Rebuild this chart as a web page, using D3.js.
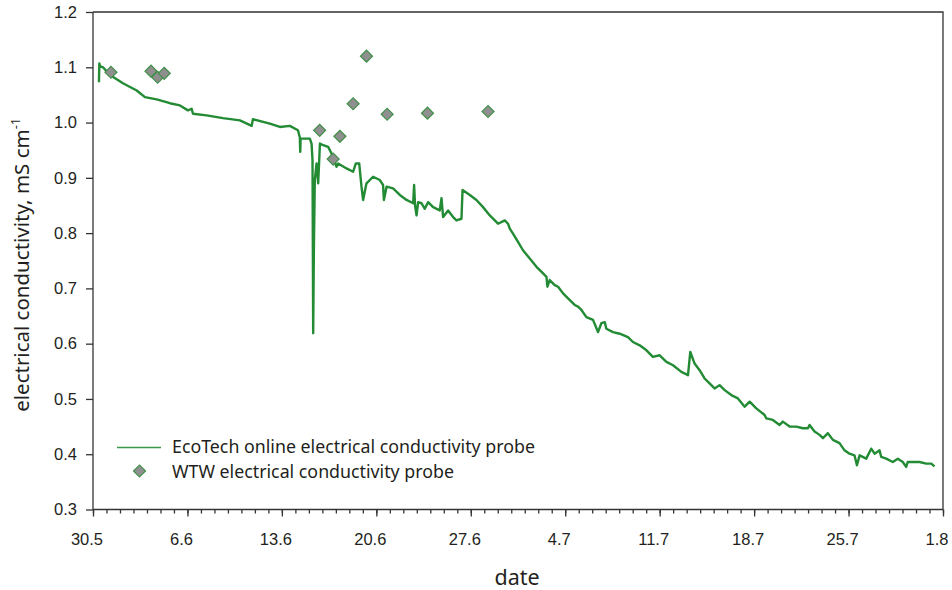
<!DOCTYPE html>
<html>
<head>
<meta charset="utf-8">
<script src="https://cdn.jsdelivr.net/npm/d3@7"></script>
<style>
  html, body { margin: 0; padding: 0; background: #fff; }
  svg { display: block; font-family: "Noto Sans", "Open Sans", sans-serif; }
  .axis text { font-size: 16.5px; fill: #231f20; }
  .axis path, .axis line { stroke: #333; stroke-width: 1.3; }
</style>
</head>
<body>
<svg id="chart" width="952" height="590"></svg>
<script>
// Measurement period start (first day on the time axis)
const startDate = Date.UTC(2014, 4, 30);
const endDay = 63; // 1 August

// EcoTech online probe: elapsed days since 30 May, conductivity in mS/cm
const ecoDays = [0.44,0.47,0.52,0.74,1.26,2.22,3.24,3.85,4.72,5.70,6.44,7.04,7.31,7.41,8.42,9.63,10.89,11.76,11.85,13.11,
  13.85,14.59,15.19,15.33,15.36,15.39,16.07,16.20,16.27,16.32,16.37,16.44,16.57,16.69,16.82,17.06,17.43,17.68,18.05,18.17,
  18.79,19.28,19.48,19.73,19.90,20.02,20.27,20.76,21.26,21.50,21.56,21.76,22.24,22.74,23.24,23.73,23.80,23.87,23.98,24.10,
  24.35,24.59,24.84,25.21,25.70,25.83,25.95,26.32,26.69,26.94,27.31,27.39,27.93,28.42,28.91,29.41,30.02,30.52,30.76,30.89,
  31.13,31.50,31.87,32.37,32.87,33.36,33.61,33.68,33.85,34.22,34.47,34.84,35.21,35.70,35.95,36.20,36.57,37.06,37.43,37.68,
  37.93,38.05,38.54,39.04,39.65,40.02,40.52,41.02,41.50,42.00,42.50,42.99,43.61,44.10,44.27,44.59,44.96,45.33,45.70,46.07,
  46.44,46.82,47.31,47.80,48.30,48.67,49.16,49.78,49.90,50.39,50.89,51.13,51.63,52.13,52.62,52.99,53.11,53.48,53.85,54.10,
  54.47,54.84,55.33,55.70,56.07,56.44,56.62,56.82,57.31,57.68,57.93,58.30,58.42,58.79,59.28,59.65,60.02,60.27,60.39,60.76,
  61.26,61.76,62.13,62.37];
const ecoEC = [1.073,1.107,1.102,1.100,1.086,1.071,1.058,1.046,1.042,1.035,1.031,1.022,1.025,1.016,1.013,1.008,1.004,0.994,1.006,0.998,
  0.992,0.994,0.986,0.973,0.947,0.971,0.971,0.962,0.932,0.619,0.769,0.896,0.926,0.890,0.962,0.959,0.956,0.944,0.920,0.926,
  0.917,0.911,0.926,0.926,0.884,0.860,0.890,0.902,0.896,0.887,0.860,0.884,0.881,0.869,0.860,0.854,0.887,0.850,0.832,0.856,
  0.854,0.844,0.856,0.847,0.841,0.863,0.829,0.841,0.829,0.823,0.826,0.878,0.869,0.860,0.847,0.832,0.817,0.823,0.817,0.808,
  0.799,0.784,0.769,0.754,0.739,0.727,0.721,0.703,0.715,0.706,0.703,0.691,0.682,0.670,0.667,0.661,0.648,0.643,0.621,0.637,
  0.639,0.627,0.621,0.618,0.612,0.603,0.597,0.588,0.576,0.579,0.567,0.561,0.549,0.543,0.585,0.564,0.552,0.537,0.528,0.519,
  0.525,0.516,0.507,0.501,0.486,0.495,0.483,0.471,0.465,0.462,0.453,0.459,0.450,0.450,0.447,0.447,0.453,0.441,0.435,0.429,
  0.438,0.426,0.420,0.407,0.401,0.398,0.380,0.398,0.392,0.410,0.401,0.407,0.395,0.392,0.386,0.392,0.386,0.377,0.386,0.386,
  0.386,0.383,0.383,0.378];

// WTW handheld probe: spot measurements
const wtwDays = [1.33,4.30,4.79,5.28,16.80,17.80,18.30,19.28,20.27,21.80,24.79,29.28];
const wtwEC = [1.091,1.093,1.082,1.089,0.986,0.934,0.975,1.034,1.120,1.015,1.017,1.020];

const yTicks = [0.3,0.4,0.5,0.6,0.7,0.8,0.9,1.0,1.1,1.2];
const seriesNames = ["EcoTech online electrical conductivity probe", "WTW electrical conductivity probe"];
const lineColor = "#228b34";

const toDate = d => new Date(startDate + d * 864e5);

const margin = {top: 12, right: 9, bottom: 80.5, left: 93};
const svg = d3.select("#chart");
const W = +svg.attr("width"), H = +svg.attr("height");
const iw = W - margin.left - margin.right, ih = H - margin.top - margin.bottom;

const x = d3.scaleUtc().domain([toDate(0), toDate(endDay)]).range([0, iw]);
const y = d3.scaleLinear().domain([0.3, 1.2]).range([ih, 0]);

const g = svg.append("g").attr("transform", `translate(${margin.left},${margin.top})`);

// frame (top and right edges)
g.append("path")
  .attr("d", `M0,0H${iw}V${ih}`)
  .attr("fill", "none").attr("stroke", "#333").attr("stroke-width", 1.3);

// daily minor ticks
const minorAxis = d3.axisBottom(x)
  .tickValues(d3.utcDay.range(toDate(0), toDate(endDay + 0.5)))
  .tickSize(4).tickFormat("");
g.append("g").attr("class", "axis").attr("transform", `translate(0,${ih})`).call(minorAxis)
  .call(a => a.select(".domain").remove());

// weekly major ticks
const majorAxis = d3.axisBottom(x)
  .tickValues(d3.range(0, endDay + 1, 7).map(toDate))
  .tickSize(7).tickPadding(17)
  .tickFormat(d3.utcFormat("%-d.%-m"));
const xg = g.append("g").attr("class", "axis").attr("transform", `translate(0,${ih})`).call(majorAxis);
xg.selectAll("text").attr("dx", -6.5);
xg.select(".domain").attr("d", `M0,0H${iw}`);

const yAxis = d3.axisLeft(y).tickValues(yTicks).tickSize(7).tickPadding(9).tickFormat(d3.format(".1f"));
const yg = g.append("g").attr("class", "axis").call(yAxis);
yg.select(".domain").attr("d", `M0,${ih}V0`);

// axis titles
svg.append("text")
  .attr("x", margin.left + iw / 2 - 1).attr("y", 585)
  .attr("text-anchor", "middle").attr("font-size", 21.5).attr("fill", "#231f20")
  .text("date");

const yt = svg.append("text")
  .attr("transform", `translate(29,${margin.top + ih / 2 + 4}) rotate(-90)`)
  .attr("text-anchor", "middle").attr("font-size", 20.5).attr("fill", "#231f20");
yt.append("tspan").text("electrical conductivity, mS cm");
yt.append("tspan").attr("font-size", 13).attr("dy", -9).text("-1");

// EcoTech line
const line = d3.line().x((d, i) => x(toDate(ecoDays[i]))).y((d, i) => y(ecoEC[i]));
g.append("path")
  .datum(ecoEC)
  .attr("d", line)
  .attr("fill", "none").attr("stroke", lineColor).attr("stroke-width", 2.4)
  .attr("stroke-linejoin", "round");

// WTW diamonds
const diamond = d3.symbol().type(d3.symbolSquare).size(72);
g.selectAll(".wtw").data(wtwEC).join("path")
  .attr("class", "wtw")
  .attr("d", diamond)
  .attr("transform", (d, i) => `translate(${x(toDate(wtwDays[i]))},${y(d)}) rotate(45)`)
  .attr("fill", "#8f8f8f").attr("stroke", "#3f8f47").attr("stroke-width", 1.2);

// legend
const lg = svg.append("g").attr("font-size", 17.8).attr("fill", "#231f20");
lg.append("line").attr("x1", 117).attr("x2", 161).attr("y1", 447.5).attr("y2", 447.5)
  .attr("stroke", "#3a9a48").attr("stroke-width", 1.5);
lg.append("text").attr("x", 172).attr("y", 453).text(seriesNames[0]);
lg.append("path").attr("d", diamond)
  .attr("transform", "translate(139.5,471) rotate(45)")
  .attr("fill", "#8f8f8f").attr("stroke", "#3f8f47").attr("stroke-width", 1.2);
lg.append("text").attr("x", 172).attr("y", 477.5).text(seriesNames[1]);
</script>
</body>
</html>
